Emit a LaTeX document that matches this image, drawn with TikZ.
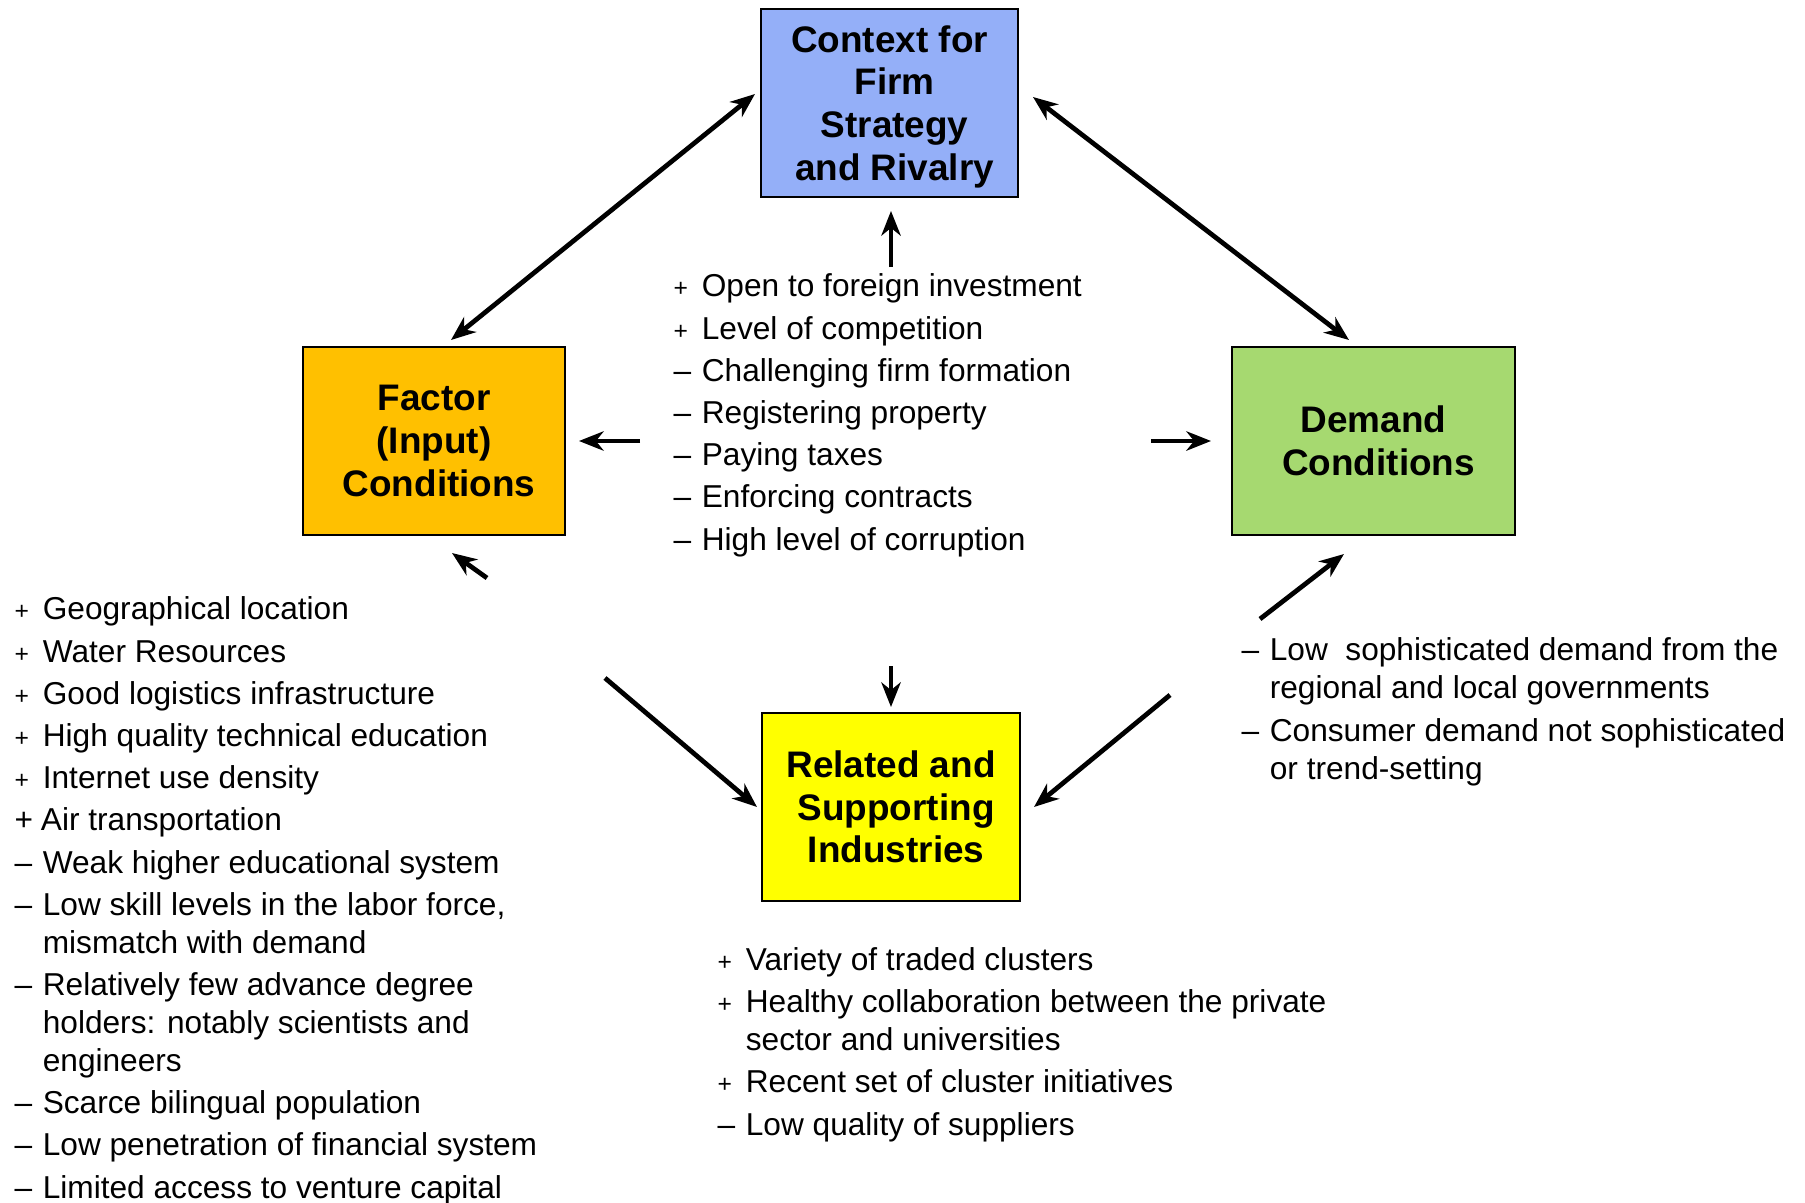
\documentclass[tikz,border=0pt]{standalone}
\usepackage{fontspec}
\setmainfont{Liberation Sans}
\usepackage{tikz}
\usetikzlibrary{arrows.meta, positioning, calc}
\definecolor{rivalblue}{RGB}{148,175,248}
\definecolor{factorgold}{RGB}{255,192,0}
\definecolor{demandgreen}{RGB}{166,217,112}
\definecolor{relyellow}{RGB}{255,255,0}
\newcommand{\posmark}{\makebox[8pt][l]{\fontsize{7}{7}\selectfont +}}
\newcommand{\negmark}{\makebox[8pt][l]{--}}
\newcommand{\wrapind}{\hspace*{8pt}}
\newcommand{\padl}{\hspace*{2.9pt}}
\tikzset{>={Stealth[length=7pt,width=5.5pt,inset=2.2pt]}}

\begin{document}
\begin{tikzpicture}[x=0.01cm, y=-0.01cm,
    box/.style={draw, line width=0.7pt, minimum height=1.88cm, inner sep=0pt,
      align=center, font=\fontsize{10.5}{12.1}\selectfont\bfseries},
    facts/.style={anchor=base west, align=left, inner sep=0pt,
      font=\fontsize{9}{10.8}\selectfont},
    link/.style={line width=1.35pt}]
  \useasboundingbox (0,0) rectangle (1805,1203);
  % diamond boxes
  \node[box, fill=rivalblue, minimum width=2.57cm] (context) at (889.5,103)
    {\rule{0pt}{9.7pt}Context for\\\padl Firm\\\padl Strategy\\\padl and Rivalry};
  \node[box, fill=factorgold, minimum width=2.62cm] (factor) at (434,441)
    {Factor\\(Input)\\\padl Conditions};
  \node[box, fill=demandgreen, minimum width=2.83cm] (demand) at (1373.5,441)
    {Demand\\\padl Conditions};
  \node[box, fill=relyellow, minimum width=2.58cm] (related) at (891,807)
    {Related and\\\padl Supporting\\\padl Industries};
  % assessments (placed by the baseline of their last line)
  \node[facts] (rivalry) at (673,550) {%
    \posmark Open to foreign investment\\[1.2pt]
    \posmark Level of competition\\[1.2pt]
    \negmark Challenging firm formation\\[1.2pt]
    \negmark Registering property\\[1.2pt]
    \negmark Paying taxes\\[1.2pt]
    \negmark Enforcing contracts\\[1.2pt]
    \negmark High level of corruption};
  \node[facts] (inputs) at (14,1198) {%
    \posmark Geographical location\\[1.2pt]
    \posmark Water Resources\\[1.2pt]
    \posmark Good logistics infrastructure\\[1.2pt]
    \posmark High quality technical education\\[1.2pt]
    \posmark Internet use density\\[1.2pt]
    +\hspace{2.2pt}Air transportation\\[1.2pt]
    \negmark Weak higher educational system\\[1.2pt]
    \negmark Low skill levels in the labor force,\\
    \wrapind mismatch with demand\\[1.2pt]
    \negmark Relatively few advance degree\\
    \wrapind holders: notably scientists and\\
    \wrapind engineers\\[1.2pt]
    \negmark Scarce bilingual population\\[1.2pt]
    \negmark Low penetration of financial system\\[1.2pt]
    \negmark Limited access to venture capital};
  \node[facts] (buyers) at (1241,779) {%
    \negmark Low\ \ sophisticated demand from the\\
    \wrapind regional and local governments\\[1.2pt]
    \negmark Consumer demand not sophisticated\\
    \wrapind or trend-setting};
  \node[facts] (clusters) at (717,1135) {%
    \posmark Variety of traded clusters\\[1.2pt]
    \posmark Healthy collaboration between the private\\
    \wrapind sector and universities\\[1.2pt]
    \posmark Recent set of cluster initiatives\\[1.2pt]
    \negmark Low quality of suppliers};
  % arrow ends
  \coordinate (fc1) at (451,340);  \coordinate (fc2) at (755,94);
  \coordinate (cd1) at (1033,97);  \coordinate (cd2) at (1349,340);
  \coordinate (up1) at (891,267);  \coordinate (up2) at (891,211);
  \coordinate (lf1) at (640,441);  \coordinate (lf2) at (579,441);
  \coordinate (rt1) at (1151,441); \coordinate (rt2) at (1211,441);
  \coordinate (dn1) at (891,666);  \coordinate (dn2) at (891,707);
  \coordinate (fb1) at (487,578);  \coordinate (fb2) at (452,553);
  \coordinate (rl1) at (605,678);  \coordinate (rl2) at (757,807);
  \coordinate (rr1) at (1170,695); \coordinate (rr2) at (1034,807);
  \coordinate (db1) at (1260,619); \coordinate (db2) at (1344,554);
  % arrows
  \draw[link,<->] (fc1) -- (fc2);
  \draw[link,<->] (cd1) -- (cd2);
  \draw[link,->] (up1) -- (up2);
  \draw[link,->] (lf1) -- (lf2);
  \draw[link,->] (rt1) -- (rt2);
  \draw[link,->] (dn1) -- (dn2);
  \draw[link,->] (fb1) -- (fb2);
  \draw[link,->] (rl1) -- (rl2);
  \draw[link,->] (rr1) -- (rr2);
  \draw[link,->] (db1) -- (db2);
\end{tikzpicture}
\end{document}
